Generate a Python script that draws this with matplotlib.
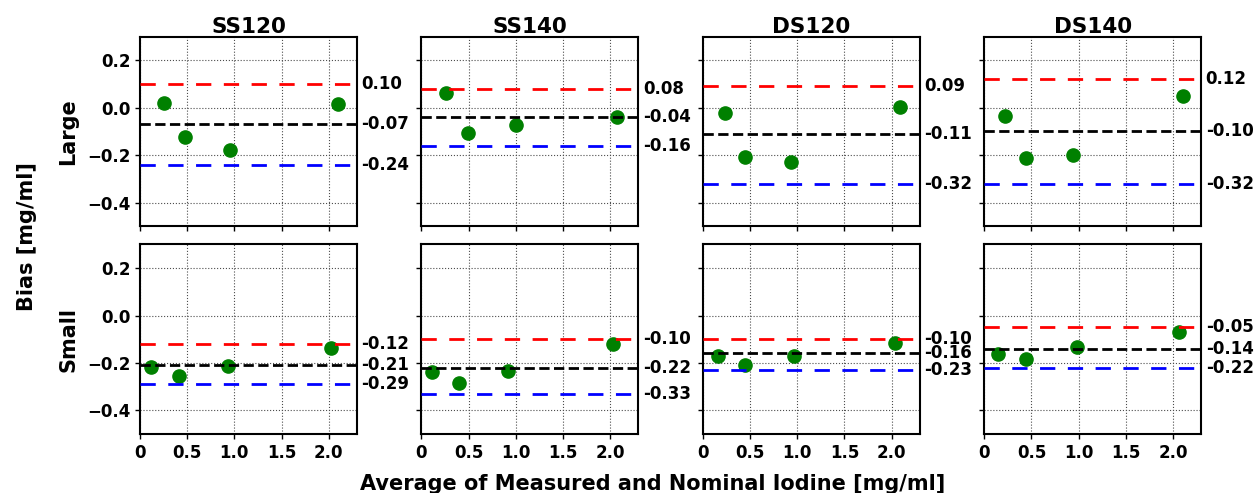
import matplotlib
matplotlib.use('Agg')
import matplotlib.pyplot as plt
import matplotlib.transforms as mtransforms

plt.rcParams['font.family'] = 'DejaVu Sans'
plt.rcParams['font.weight'] = 'bold'

# panel names
protocols = ['SS120', 'SS140', 'DS120', 'DS140']
sizes = ['Large', 'Small']

# average of measured and nominal iodine (x) per protocol
x_large = [[0.25, 0.48, 0.95, 2.10],
           [0.26, 0.49, 1.00, 2.07],
           [0.23, 0.45, 0.93, 2.09],
           [0.22, 0.44, 0.94, 2.11]]
x_small = [[0.12, 0.41, 0.93, 2.02],
           [0.11, 0.40, 0.92, 2.03],
           [0.16, 0.45, 0.97, 2.04],
           [0.15, 0.44, 0.98, 2.06]]

# bias per protocol
bias_large = [[0.020, -0.125, -0.178, 0.016],
              [0.061, -0.105, -0.073, -0.041],
              [-0.024, -0.207, -0.231, 0.004],
              [-0.035, -0.214, -0.200, 0.049]]
bias_small = [[-0.219, -0.257, -0.215, -0.135],
              [-0.239, -0.283, -0.235, -0.122],
              [-0.170, -0.208, -0.169, -0.117],
              [-0.163, -0.184, -0.134, -0.070]]

# limits of agreement and mean bias
upper_large = [0.10, 0.08, 0.09, 0.12]
mean_large = [-0.07, -0.04, -0.11, -0.10]
lower_large = [-0.24, -0.16, -0.32, -0.32]
upper_small = [-0.12, -0.10, -0.10, -0.05]
mean_small = [-0.21, -0.22, -0.16, -0.14]
lower_small = [-0.29, -0.33, -0.23, -0.22]

xticks = [0, 0.5, 1.0, 1.5, 2.0]
xticklabels = ['0', '0.5', '1.0', '1.5', '2.0']
yticks = [-0.4, -0.2, 0.0, 0.2]

xs = [x_large, x_small]
ys = [bias_large, bias_small]
ups = [upper_large, upper_small]
means = [mean_large, mean_small]
lows = [lower_large, lower_small]

fig, axes = plt.subplots(2, 4, figsize=(12.57, 4.93), dpi=100, sharex=True, sharey=True)
fig.subplots_adjust(left=0.1114, right=0.9557, top=0.9256, bottom=0.1197,
                    wspace=0.297, hspace=0.096)

for r in range(2):
    for c in range(4):
        ax = axes[r][c]
        ax.plot(xs[r][c], ys[r][c], 'o', color='green', ms=9.5, zorder=3)
        ax.axhline(ups[r][c], color='red', lw=2, dashes=(5.5, 4.5), zorder=4)
        ax.axhline(means[r][c], color='black', lw=2, ls='--', zorder=4)
        ax.axhline(lows[r][c], color='blue', lw=2, dashes=(5.5, 4.5), zorder=4)

        trans = mtransforms.blended_transform_factory(ax.transAxes, ax.transData)
        for v in (ups[r][c], means[r][c], lows[r][c]):
            ax.text(1.02, v, '%.2f' % v, transform=trans, ha='left', va='center',
                    fontsize=12, fontweight='bold')

        ax.set_xlim(0, 2.3)
        ax.set_ylim(-0.5, 0.3)
        ax.set_xticks(xticks)
        ax.set_xticklabels(xticklabels)
        ax.set_yticks(yticks)
        ax.grid(True, ls=':', color='0.3', lw=0.8)
        ax.tick_params(direction='out', length=3.5, width=1, labelsize=12)
        for sp in ax.spines.values():
            sp.set_linewidth(1.5)

        if r == 0:
            ax.set_title(protocols[c], fontsize=15.5, fontweight='bold', pad=3)
        if c == 0:
            ax.set_ylabel(sizes[r], fontsize=15, fontweight='bold', labelpad=6)

fig.text(0.0215, 0.52, 'Bias [mg/ml]', rotation=90, ha='center', va='center',
         fontsize=15, fontweight='bold')
fig.text(0.5195, 0.006, 'Average of Measured and Nominal Iodine [mg/ml]',
         ha='center', va='baseline', fontsize=15, fontweight='bold')

fig.savefig('out.png', dpi=100)
